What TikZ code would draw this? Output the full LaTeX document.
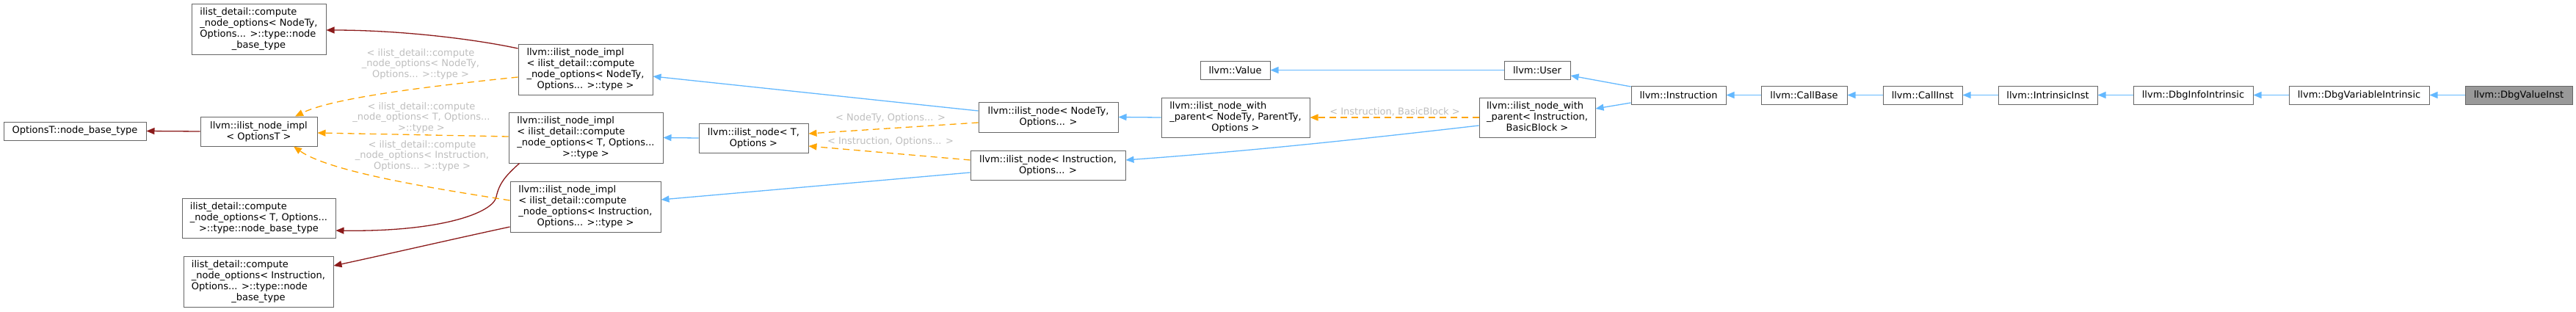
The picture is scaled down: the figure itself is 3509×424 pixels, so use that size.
\documentclass[tikz,border=0pt]{standalone}
\usepackage{fontspec}
\setmainfont{DejaVu Sans}
\usetikzlibrary{arrows.meta}
\definecolor{edgeblue}{HTML}{63B8FF}
\definecolor{edgered}{HTML}{8B1A1A}
\definecolor{edgeorange}{HTML}{FFA500}
\definecolor{lblgray}{HTML}{BEBEBE}
\definecolor{boxgray}{HTML}{666666}
\definecolor{curfill}{HTML}{999999}
\newcommand{\Lns}[2]{\begin{tabular}{@{}l@{}}#1\multicolumn{1}{@{}c@{}}{#2}\end{tabular}}
\tikzset{
  cls/.style={draw=boxgray, fill=white, line width=1pt, inner sep=0pt, align=center,
    font=\fontsize{13}{15}\selectfont},
  pub/.style={draw=edgeblue, line width=1.3pt, -{Triangle[length=11pt,width=9pt,fill=edgeblue]}},
  priv/.style={draw=edgered, line width=1.3pt, -{Triangle[length=11pt,width=9pt,fill=edgered]}},
  tmpl/.style={draw=edgeorange, line width=1.3pt, dash pattern=on 9pt off 6pt,
    -{Triangle[length=11pt,width=9pt,fill=edgeorange]}},
  lbl/.style={text=lblgray, inner sep=0pt, align=center, font=\fontsize{13}{14.5}\selectfont}
}
\begin{document}
\begin{tikzpicture}[x=1pt,y=-1pt]
\useasboundingbox (0,0) rectangle (3509,424);
% nodes
\node[cls, minimum width=194pt, minimum height=25pt] (optT) at (102,178.5) {OptionsT::node\_base\_type};
\node[cls, minimum width=159pt, minimum height=40pt] (impl) at (352.5,179) {llvm::ilist\_node\_impl\\\textless{} OptionsT \textgreater};
\node[cls, minimum width=183pt, minimum height=69pt] (A) at (352.5,39.5) {\Lns{ilist\_detail::compute\\\_node\_options\textless{} NodeTy,\\ Options... \textgreater::type::node\\}{\_base\_type}};
\node[cls, minimum width=209pt, minimum height=54pt] (B) at (352.5,297) {\Lns{ilist\_detail::compute\\\_node\_options\textless{} T, Options...\\}{\textgreater::type::node\_base\_type}};
\node[cls, minimum width=204pt, minimum height=69pt] (C) at (352,383.5) {\Lns{ilist\_detail::compute\\\_node\_options\textless{} Instruction,\\ Options... \textgreater::type::node\\}{\_base\_type}};
\node[cls, minimum width=183pt, minimum height=69pt] (implN) at (797.5,94.5) {\Lns{llvm::ilist\_node\_impl\\\textless{} ilist\_detail::compute\\\_node\_options\textless{} NodeTy,\\}{Options... \textgreater::type \textgreater}};
\node[cls, minimum width=210pt, minimum height=69pt] (implT) at (798,187.5) {\Lns{llvm::ilist\_node\_impl\\\textless{} ilist\_detail::compute\\\_node\_options\textless{} T, Options...\\}{\textgreater::type \textgreater}};
\node[cls, minimum width=205pt, minimum height=69pt] (implI) at (797.5,281.5) {\Lns{llvm::ilist\_node\_impl\\\textless{} ilist\_detail::compute\\\_node\_options\textless{} Instruction,\\}{Options... \textgreater::type \textgreater}};
\node[cls, minimum width=149pt, minimum height=40pt] (nodeT) at (1026.5,188) {llvm::ilist\_node\textless{} T,\\Options \textgreater};
\node[cls, minimum width=190pt, minimum height=41pt] (nodeN) at (1428,159.5) {llvm::ilist\_node\textless{} NodeTy,\\Options... \textgreater};
\node[cls, minimum width=211pt, minimum height=40pt] (nodeI) at (1427.5,225) {llvm::ilist\_node\textless{} Instruction,\\Options... \textgreater};
\node[cls, minimum width=202pt, minimum height=54pt] (wpN) at (1683,160) {\Lns{llvm::ilist\_node\_with\\\_parent\textless{} NodeTy, ParentTy,\\}{Options \textgreater}};
\node[cls, minimum width=95pt, minimum height=25pt] (value) at (1682.5,95.5) {llvm::Value};
\node[cls, minimum width=90pt, minimum height=25pt] (user) at (2094,95.5) {llvm::User};
\node[cls, minimum width=158pt, minimum height=54pt] (wpI) at (2094,160) {\Lns{llvm::ilist\_node\_with\\\_parent\textless{} Instruction,\\}{BasicBlock \textgreater}};
\node[cls, minimum width=129pt, minimum height=25pt] (instr) at (2286.5,129.5) {llvm::Instruction};
\node[cls, minimum width=117pt, minimum height=25pt] (callbase) at (2457.5,129.5) {llvm::CallBase};
\node[cls, minimum width=108pt, minimum height=25pt] (callinst) at (2619,129.5) {llvm::CallInst};
\node[cls, minimum width=135pt, minimum height=25pt] (intrinsic) at (2789.5,129.5) {llvm::IntrinsicInst};
\node[cls, minimum width=163pt, minimum height=25pt] (dbginfo) at (2987.5,129.5) {llvm::DbgInfoIntrinsic};
\node[cls, minimum width=191pt, minimum height=25pt] (dbgvar) at (3213.5,129.5) {llvm::DbgVariableIntrinsic};
\node[cls, fill=curfill, minimum width=146pt, minimum height=25pt] (dbgval) at (3431,129.5) {llvm::DbgValueInst};
% private (red)
\draw[priv] (impl.west) -- (optT.east);
\draw[priv] ([yshift=28.5pt]implN.west) .. controls (640,52) and (540,41) .. ([yshift=-1.5pt]A.east);
\draw[priv] ([xshift=15pt]implT.south west) .. controls (688,240) and (680,250) .. (676,268)
  .. controls (672,290) and (600,316) .. ([yshift=-17pt]B.east);
\draw[priv] ([yshift=-27.5pt]implI.west) .. controls (620,325) and (520,348) .. ([yshift=21.5pt]C.east);
% template (orange)
\draw[tmpl] ([yshift=-10.5pt]implN.west) .. controls (560,120) and (450,135) .. ([xshift=49.5pt]impl.north);
\draw[tmpl] ([yshift=1.5pt]implT.west) -- ([yshift=-2pt]impl.east);
\draw[tmpl] ([yshift=8.5pt]implI.west) .. controls (600,258) and (450,235) .. ([xshift=47.5pt]impl.south);
\draw[tmpl] ([yshift=-7.5pt]nodeN.west) -- ([yshift=6pt]nodeT.east);
\draw[tmpl] ([yshift=7pt]nodeI.west) -- ([yshift=-11pt]nodeT.east);
\draw[tmpl] (wpI.west) -- (wpN.east);
% labels
\node[lbl] (l1) at (573,87) {\textless{} ilist\_detail::compute\\\_node\_options\textless{} NodeTy,\\Options... \textgreater::type \textgreater};
\node[lbl] (l2) at (574,160) {\textless{} ilist\_detail::compute\\\_node\_options\textless{} T, Options...\\\textgreater::type \textgreater};
\node[lbl] (l3) at (575,212) {\textless{} ilist\_detail::compute\\\_node\_options\textless{} Instruction,\\Options... \textgreater::type \textgreater};
\node[lbl] (l4) at (1213,161) {\textless{} NodeTy, Options... \textgreater};
\node[lbl] (l5) at (1213,193) {\textless{} Instruction, Options... \textgreater};
\node[lbl] (l6) at (1900,152) {\textless{} Instruction, BasicBlock \textgreater};
% public (blue)
\draw[pub] ([yshift=8.5pt]nodeN.west) -- ([yshift=-9.5pt]implN.east);
\draw[pub] (nodeT.west) -- (implT.east);
\draw[pub] ([yshift=-10pt]nodeI.west) -- ([yshift=9.5pt]implI.east);
\draw[pub] (wpN.west) -- (nodeN.east);
\draw[pub] ([yshift=-11pt]wpI.west) .. controls (1850,190) and (1700,206) .. ([yshift=7pt]nodeI.east);
\draw[pub] (user.west) -- (value.east);
\draw[pub] ([yshift=11.5pt]instr.west) -- ([yshift=-7.5pt]user.east);
\draw[pub] ([yshift=-10.5pt]instr.west) -- ([yshift=12pt]wpI.east);
\draw[pub] (callbase.west) -- (instr.east);
\draw[pub] (callinst.west) -- (callbase.east);
\draw[pub] (intrinsic.west) -- (callinst.east);
\draw[pub] (dbginfo.west) -- (intrinsic.east);
\draw[pub] (dbgvar.west) -- (dbginfo.east);
\draw[pub] (dbgval.west) -- (dbgvar.east);
\end{tikzpicture}
\end{document}
